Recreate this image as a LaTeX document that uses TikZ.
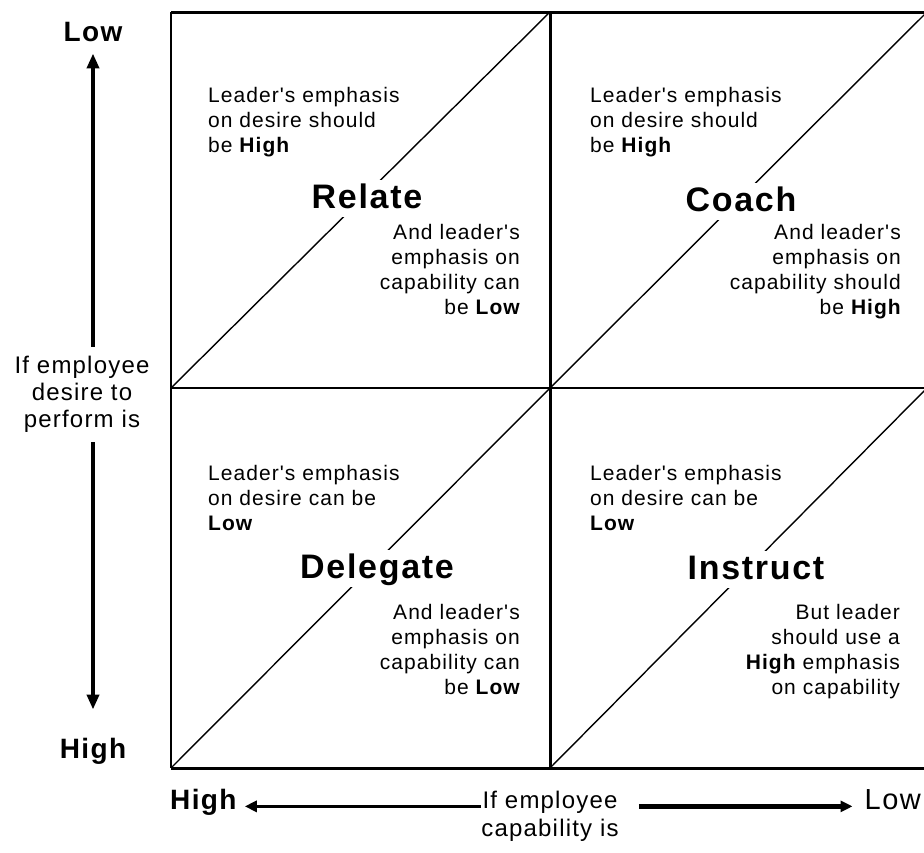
\documentclass[tikz,border=0pt]{standalone}
\usepackage{fontspec}
\setmainfont{Liberation Sans}[LetterSpace=5, Ligatures=TeXOff]
\usetikzlibrary{arrows.meta}
\tikzset{
  body/.style={inner sep=0pt, font=\fontsize{21}{25}\selectfont},
  bl/.style={body, align=left, anchor=north west},
  br/.style={body, align=right, anchor=north east},
  title/.style={font=\fontsize{34}{40}\selectfont\bfseries, fill=white, inner xsep=2pt, inner ysep=0pt, text height=28pt, text depth=9pt, anchor=base},
  axlab/.style={inner sep=0pt, align=center},
  axend/.style={inner sep=0pt, font=\fontsize{28}{30}\selectfont\bfseries},
  outer/.style={line width=3pt},
  thinner/.style={line width=2pt},
  diag/.style={line width=1.4pt},
  bigarrow/.style={line width=4pt, -{Triangle[length=15pt,width=12pt]}},
  harrow/.style={line width=3pt, -{Triangle[length=12pt,width=11pt]}}
}
\begin{document}
\begin{tikzpicture}[x=1pt,y=-1pt]
\useasboundingbox (0,0) rectangle (924,852);
\clip (0,0) rectangle (924,852);
\fill[white] (0,0) rectangle (924,852);
% grid corners
\coordinate (A1) at (171,12);  \coordinate (A2) at (550,12);  \coordinate (A3) at (927,12);
\coordinate (B1) at (171,388); \coordinate (B2) at (550,388); \coordinate (B3) at (927,388);
\coordinate (C1) at (171,768); \coordinate (C2) at (550,768); \coordinate (C3) at (927,768);
% diagonals
\draw[diag] (B1) -- (A2);
\draw[diag] (B2) -- (A3);
\draw[diag] (C1) -- (B2);
\draw[diag] (C2) -- (B3);
% grid lines
\draw[outer] (A1) -- (A3);
\draw[outer] (C1) -- (C3);
\draw[thinner] (A1) -- (C1);
\draw[thinner] (B1) -- (B3);
\draw[outer] (A2) -- (C2);
% Relate
\node[bl] (r1) at (208,87) {Leader's emphasis\\on desire should\\be {\bfseries High}};
\node[title] (relate) at (367,208) {Relate};
\node[br] (r2) at (520,224) {And leader's\\emphasis on\\capability can\\be {\bfseries Low}};
% Coach
\node[bl] (c1) at (590,87) {Leader's emphasis\\on desire should\\be {\bfseries High}};
\node[title] (coach) at (741,211) {Coach};
\node[br] (c2) at (901,224) {And leader's\\emphasis on\\capability should\\be {\bfseries High}};
% Delegate
\node[bl] (d1) at (208,465) {Leader's emphasis\\on desire can be\\{\bfseries Low}};
\node[title] (delegate) at (377,578) {Delegate};
\node[br] (d2) at (520,604) {And leader's\\emphasis on\\capability can\\be {\bfseries Low}};
% Instruct
\node[bl] (i1) at (590,465) {Leader's emphasis\\on desire can be\\{\bfseries Low}};
\node[title] (instruct) at (756,579) {Instruct};
\node[br] (i2) at (900,604) {But leader\\should use a\\{\bfseries High} emphasis\\on capability};
% left axis
\node[axend, anchor=base] (lowL) at (93,41) {Low};
\node[axend, anchor=base] (highL) at (93,758) {High};
\node[axlab, font=\fontsize{24}{27}\selectfont] (ylab) at (82,394) {If employee\\desire to\\perform is};
\draw[bigarrow, shorten <=9pt, shorten >=12pt] (lowL.south |- ylab.north) -- (lowL.south);
\draw[bigarrow, shorten <=10pt, shorten >=28pt] (highL.north |- ylab.south) -- (highL.north);
% bottom axis
\node[axend, anchor=base west] (highB) at (170,809) {High};
\node[axend, anchor=base east, font=\fontsize{29}{30}\selectfont] (lowB) at (921,809) {Low};
\node[axlab, font=\fontsize{24}{28}\selectfont] (xlab) at (550,816) {If employee\\capability is};
\draw[harrow, shorten <=0pt, shorten >=8pt] (xlab.west |- highB.mid east) -- (highB.mid east);
\draw[harrow, line width=4.5pt, shorten <=20pt, shorten >=12pt] (xlab.east |- lowB.mid west) -- (lowB.mid west);
\end{tikzpicture}
\end{document}
